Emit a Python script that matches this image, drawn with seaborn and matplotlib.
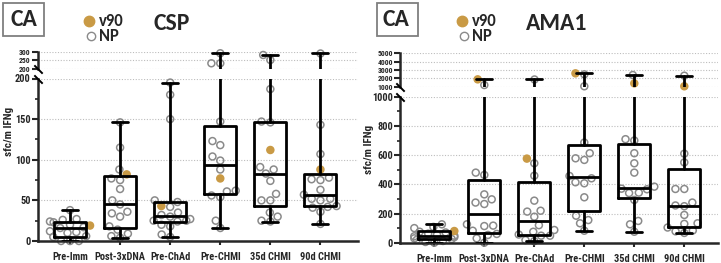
import numpy as np
import pandas as pd
import matplotlib.pyplot as plt
import seaborn as sns
from matplotlib import cbook
from matplotlib.lines import Line2D
from matplotlib.patches import Rectangle

times = ['Pre-Imm', 'Post-3xDNA', 'Pre-ChAd', 'Pre-CHMI', '35d CHMI', '90d CHMI']

# CSP sfc/m IFNg, non-protected (open circles), one list per time point
csp_np = [
    [38, 27, 26, 24, 23, 20, 17, 16, 12, 11, 10, 6, 5, 0, 0, 0],
    [146, 115, 88, 77, 75, 64, 50, 45, 36, 34, 30, 18, 14, 9, 6, 4],
    [195, 180, 150, 50, 48, 42, 35, 32, 30, 27, 25, 25, 24, 20, 18, 8, 5],
    [291, 233, 233, 147, 123, 118, 104, 99, 88, 62, 61, 56, 54, 25, 16],
    [281, 252, 187, 147, 146, 91, 88, 83, 74, 58, 50, 50, 35, 30, 25, 24],
    [294, 143, 107, 78, 76, 75, 63, 57, 52, 52, 50, 43, 42, 41, 36, 21],
]
csp_v90 = [19, 82, 43, 77, 112, 88]

# AMA1 sfc/m IFNg
ama1_np = [
    [126, 108, 100, 75, 70, 62, 55, 48, 44, 38, 30, 25, 20, 12, 5, 0],
    [1200, 480, 464, 331, 297, 275, 265, 126, 117, 114, 82, 60, 53, 30, 0],
    [1880, 544, 459, 288, 219, 213, 178, 120, 87, 75, 56, 48, 48, 18, 11],
    [2480, 1050, 686, 613, 578, 567, 457, 441, 414, 407, 311, 185, 155, 133, 82],
    [2400, 709, 700, 613, 544, 480, 384, 370, 366, 343, 340, 293, 149, 126, 75],
    [2320, 610, 550, 368, 368, 275, 255, 250, 190, 133, 129, 104, 84, 78, 67],
]
ama1_v90 = [80, 1880, 576, 2600, 1400, 1050]

GOLD = '#C99A45'
GRAY = '#8A8A8A'
W, H = 721, 263

sns.set_style('ticks')
plt.rcParams['font.family'] = ['Roboto Condensed', 'Archivo Narrow', 'Liberation Sans', 'DejaVu Sans']
plt.rcParams['font.weight'] = 'bold'
head = ['Carlito', 'Lato', 'DejaVu Sans']

fig = plt.figure(figsize=(W / 100, H / 100), dpi=100)


def rect(x0, x1, y_top, y_bot):
    return [x0 / W, 1 - y_bot / H, (x1 - x0) / W, (y_bot - y_top) / H]


def long_df(np_vals, v90_vals):
    rows = []
    for t, vals, gold in zip(times, np_vals, v90_vals):
        rows += [(t, v, 'NP') for v in vals]
        rows.append((t, gold, 'v90'))
    return pd.DataFrame(rows, columns=['time', 'sfc', 'group'])


def box_stats(np_vals, v90_vals):
    stats = []
    for vals, gold in zip(np_vals, v90_vals):
        d = np.array(vals + [gold], dtype=float)
        s = cbook.boxplot_stats(d, whis=(0, 100))[0]
        s['q1'], s['med'], s['q3'] = np.percentile(d, [25, 50, 75], method='weibull')
        stats.append(s)
    return stats


def draw(ax, df, stats, ylim, xlim, label_size):
    sns.swarmplot(data=df, x='time', y='sfc', hue='group', order=times,
                  hue_order=['NP', 'v90'], palette={'NP': 'white', 'v90': GOLD},
                  size=5.0, linewidth=1.1, legend=False, ax=ax, zorder=2,
                  warn_thresh=1)
    for coll in ax.collections:
        fc = coll.get_facecolors()
        if len(fc) == 0:
            continue
        is_np = fc[:, 0] > 0.99
        ec = np.array([plt.matplotlib.colors.to_rgba(GRAY) if n else f for n, f in zip(is_np, fc)])
        fc2 = np.array([(0, 0, 0, 0) if n else f for n, f in zip(is_np, fc)])
        coll.set_facecolors(fc2)
        coll.set_edgecolors(ec)
        coll.set_clip_on(False)
    lp = dict(color='black', linewidth=2.0)
    ax.bxp(stats, positions=range(len(times)), widths=0.64, capwidths=0.32,
           showfliers=False, boxprops=lp, whiskerprops=lp, capprops=lp,
           medianprops=lp, manage_ticks=False, zorder=3)
    ax.set_xlim(*xlim)
    ax.set_ylim(*ylim)
    ax.set_xlabel('')
    ax.set_ylabel('')
    ax.set_axisbelow(True)
    ax.yaxis.grid(True, linestyle=(0, (1, 1.5)), color='#BDBDBD', linewidth=0.8)
    ax.xaxis.grid(False)
    for s in ['top', 'right']:
        ax.spines[s].set_visible(False)
    ax.spines['left'].set_linewidth(1.8)
    ax.spines['bottom'].set_linewidth(1.8)
    ax.tick_params(axis='y', which='major', length=4, width=1.5, pad=1, labelsize=label_size)
    ax.tick_params(axis='y', which='minor', length=2.5, width=1.2)


def panel(np_vals, v90_vals, x0, x1, top_box, bot_box, split, top_lim, bot_lim,
          top_ticks, bot_ticks, minor, xlim):
    df = long_df(np_vals, v90_vals)
    stats = box_stats(np_vals, v90_vals)
    ax_top = fig.add_axes(rect(x0, x1, *top_box))
    ax_bot = fig.add_axes(rect(x0, x1, *bot_box))
    draw(ax_top, df[df['sfc'] > split], stats, top_lim, xlim, 5.5)
    draw(ax_bot, df[df['sfc'] <= split], stats, bot_lim, xlim, 7.5)
    ax_top.spines['bottom'].set_visible(False)
    ax_top.set_xticks([])
    ax_top.set_yticks(top_ticks)
    ax_bot.set_yticks(bot_ticks)
    ax_bot.set_yticks(minor, minor=True)
    ax_bot.set_xticks(range(len(times)))
    ax_bot.set_xticklabels(times, fontsize=7.5, fontweight='bold')
    ax_bot.tick_params(axis='x', length=3, width=1.5, pad=5)
    for ax, y in [(ax_top, 0), (ax_bot, 1)]:
        ax.plot([0], [y], transform=ax.transAxes, marker=[(-1, 1), (1, -1)],
                markersize=6, markeredgecolor='black', markeredgewidth=1.4,
                clip_on=False, zorder=5)


panel(csp_np, csp_v90, 37.7, 358, (51.7, 69), (78.5, 241), 200,
      (200, 300), (0, 200), [200, 250, 300], [0, 50, 100, 150, 200],
      np.arange(25, 200, 50), (-0.645, 5.75))
panel(ama1_np, ama1_v90, 400, 718.3, (53.3, 86.7), (96.7, 242.7), 1000,
      (1000, 5000), (0, 1000), [1000, 2000, 3000, 4000, 5000],
      [0, 200, 400, 600, 800, 1000], np.arange(100, 1000, 200), (-0.686, 5.68))

# y labels
fig.text(9 / W, 1 - 131 / H, 'sfc/m IFNg', rotation=90, ha='center', va='center',
         fontsize=8, fontweight='bold')
fig.text(369 / W, 1 - 149 / H, 'sfc/m IFNg', rotation=90, ha='center', va='center',
         fontsize=8, fontweight='bold')

# headers: CA box, legend, antigen title
for bx, cx, gx, tx, title in [(3, 24, 89, 172, 'CSP'), (377, 396, 462, 557, 'AMA1')]:
    fig.add_artist(Rectangle((bx / W, 1 - 36 / H), 41 / W, 33 / H, transform=fig.transFigure,
                             fill=False, edgecolor='#7F7F7F', linewidth=1.3))
    fig.text(cx / W, 1 - 20 / H, 'CA', ha='center', va='center', fontsize=17,
             fontweight='bold', family=head)
    fig.add_artist(Line2D([gx / W], [1 - 21 / H], transform=fig.transFigure, marker='o',
                          markersize=7.5, color=GOLD, linestyle=''))
    fig.add_artist(Line2D([(gx + 2) / W], [1 - 36 / H], transform=fig.transFigure, marker='o',
                          markersize=6, markerfacecolor='none', markeredgecolor=GRAY,
                          markeredgewidth=1.0, linestyle=''))
    fig.text((gx + 10) / W, 1 - 21 / H, 'v90', ha='left', va='center', fontsize=12,
             fontweight='bold', family=head)
    fig.text((gx + 10) / W, 1 - 36 / H, 'NP', ha='left', va='center', fontsize=12,
             fontweight='bold', family=head)
    fig.text(tx / W, 1 - 24 / H, title, ha='center', va='center', fontsize=17,
             fontweight='bold', family=head)

plt.savefig('out.png', dpi=100)
